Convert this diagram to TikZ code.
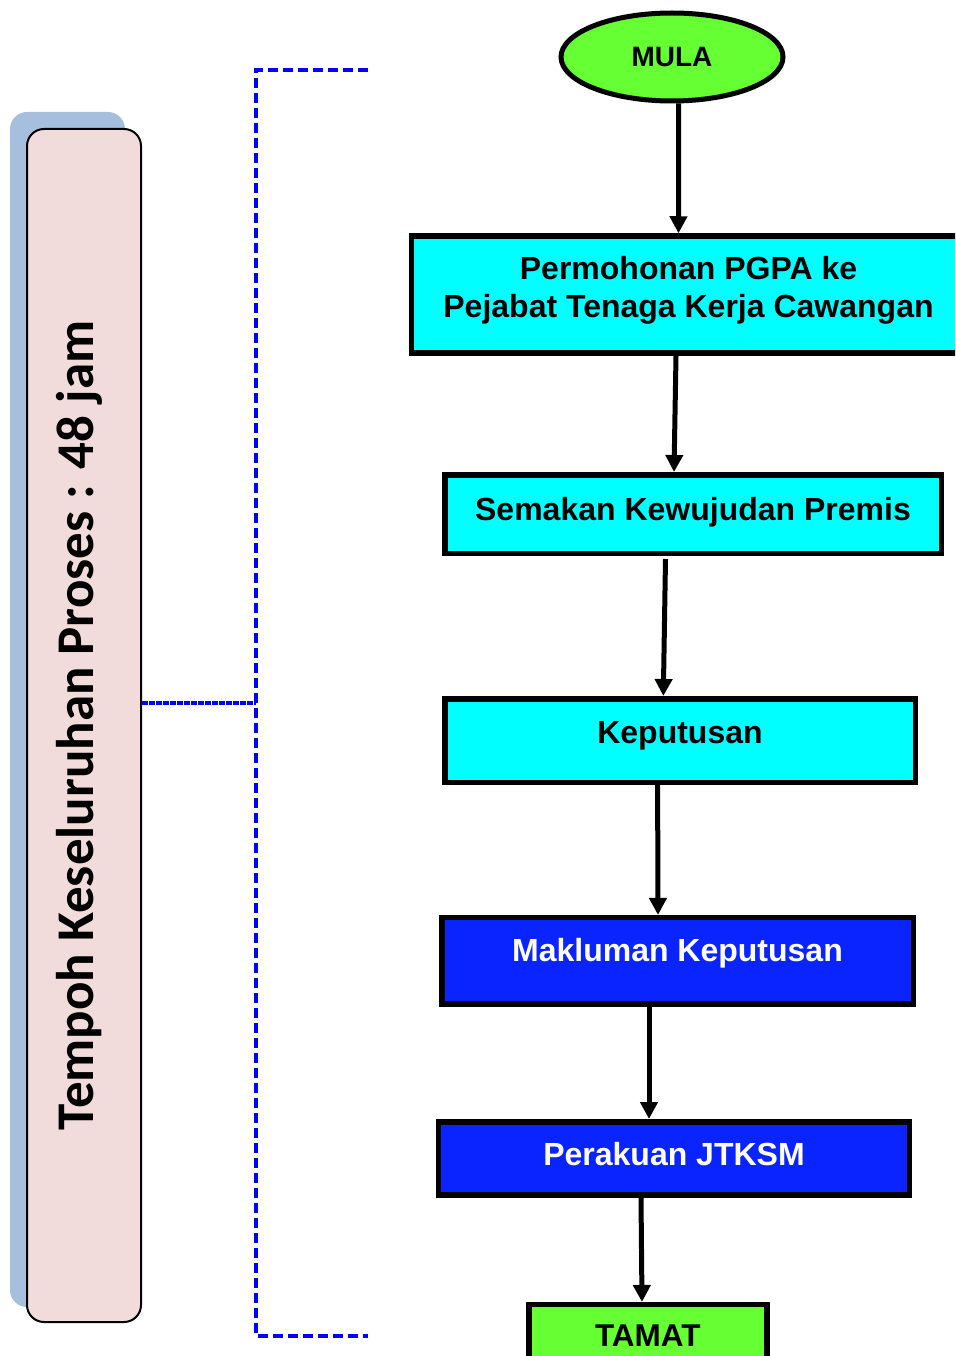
\documentclass[tikz,border=0pt]{standalone}
\usepackage{fontspec}
\setmainfont{Liberation Sans}
\newfontfamily\calibri{Carlito}
\usetikzlibrary{arrows.meta,shapes.geometric}
\definecolor{hijau}{HTML}{66FF33}
\definecolor{sian}{HTML}{00FFFF}
\definecolor{biru}{HTML}{0A24FF}
\definecolor{merahjambu}{HTML}{F2DCDB}
\definecolor{bayang}{HTML}{A7BFDE}

\begin{document}
\begin{tikzpicture}[x=1pt,y=-1pt,
    kotak/.style={draw=black,line width=5.5pt,inner sep=0pt,anchor=base,
        font=\bfseries\fontsize{32}{38}\selectfont},
    anak/.style={-{Triangle[length=17pt,width=17pt]},line width=5pt},
    putus/.style={draw=blue,line width=3.5pt,dash pattern=on 10pt off 5pt}]
    \path[use as bounding box,clip] (0,0) rectangle (955,1356);
    % kotak tempoh di sebelah kiri
    \fill[bayang,rounded corners=17pt] (10,112) rectangle (125,1307);
    \node[draw,line width=2pt,fill=merahjambu,rounded corners=17pt,rotate=90,
        minimum width=1193pt,minimum height=114pt,inner sep=0pt,
        text height=40pt,text depth=22pt,
        font=\calibri\bfseries\fontsize{53}{60}\selectfont] (tempoh) at (84,725.5)
        {Tempoh Keseluruhan Proses : 48 jam};
    % kurungan
    \coordinate (atas) at (368,70);
    \coordinate (bawah) at (368,1336);
    \coordinate (tengah) at (256,703);
    \draw[putus] (atas) -- (256,70) -- (256,1336) -- (bawah);
    \draw[blue,line width=3.5pt,dash pattern=on 6pt off 1pt] (tempoh.south |- tengah) -- (tengah);
    % carta alir
    \node[ellipse,draw,line width=5pt,fill=hijau,minimum width=222pt,minimum height=88pt,
        inner sep=0pt,font=\bfseries\fontsize{28}{32}\selectfont] (mula) at (672,57) {MULA};
    \node[kotak,fill=sian,anchor=center,align=center,minimum width=553.8pt,minimum height=117pt]
        (permohonan) at (688.5,294.5) {Permohonan PGPA ke\\Pejabat Tenaga Kerja Cawangan\rule[-16pt]{0pt}{1pt}};
    \node[kotak,fill=sian,minimum width=496.5pt,text height=45.25pt,text depth=33.25pt]
        (semakan) at (693,520) {Semakan Kewujudan Premis};
    \node[kotak,fill=sian,minimum width=470.5pt,text height=44.25pt,text depth=39.25pt]
        (keputusan) at (680,743) {Keputusan};
    \node[kotak,fill=biru,text=white,minimum width=471.5pt,text height=44pt,text depth=42.2pt]
        (makluman) at (677.5,961.7) {Makluman Keputusan};
    \node[kotak,fill=biru,text=white,minimum width=471.3pt,text height=43.25pt,text depth=30pt]
        (perakuan) at (674,1165) {Perakuan JTKSM};
    \node[kotak,fill=hijau,minimum width=238pt,text height=42pt,text depth=40pt,
        font=\bfseries\fontsize{31.5}{36}\selectfont] (tamat) at (647.8,1346.7) {TAMAT};
    \draw[anak] ([xshift=6.6pt]mula.south) -- ([xshift=-10pt]permohonan.north);
    \draw[anak] ([xshift=-12.5pt]permohonan.south) -- ([xshift=-19pt]semakan.north);
    \draw[anak] ([xshift=-27.5pt,yshift=-3pt]semakan.south) -- ([xshift=-16.7pt]keputusan.north);
    \draw[anak] ([xshift=-22.4pt]keputusan.south) -- ([xshift=-19.5pt]makluman.north);
    \draw[anak] ([xshift=-28.5pt]makluman.south) -- ([xshift=-25pt]perakuan.north);
    \draw[anak] ([xshift=-33pt]perakuan.south) -- ([xshift=-5.8pt]tamat.north);
\end{tikzpicture}
\end{document}
